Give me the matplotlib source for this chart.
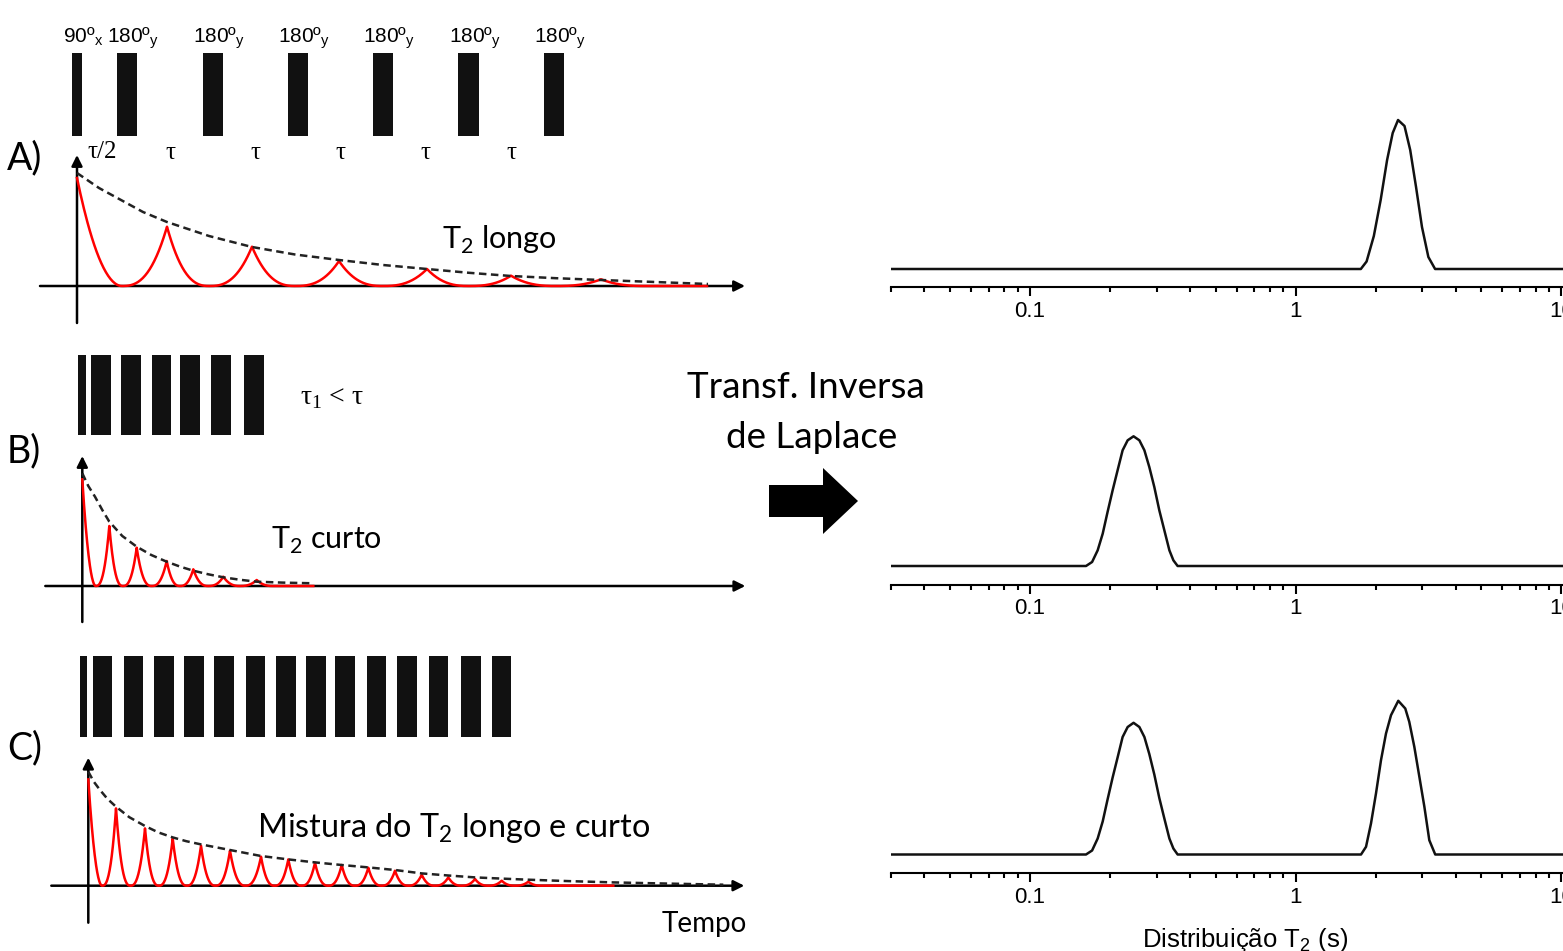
import numpy as np
import matplotlib
matplotlib.use('Agg')
import matplotlib.pyplot as plt
from matplotlib.patches import Polygon
from matplotlib.ticker import FixedLocator, LogLocator, FuncFormatter, NullFormatter

# ---- left side: CPMG sketches (times / amplitudes in a.u.) ----
# A) T2 longo
a_pulse_t = [0, 50.2, 135.9, 220.9, 306.2, 391.5, 477.2]
a_pulse_w = [10.7, 20.5, 20.5, 20.5, 20.5, 20.5, 20.5]
a_pulse_lbl = ['90º$_\\mathregular{x}$'] + ['180º$_\\mathregular{y}$'] * 6
a_h0 = 108
a_echo_t = [90, 175, 262, 350, 434, 524]
a_echo_h = [59.3, 39.3, 25, 17, 10.3, 6.7]
a_env_t = [0, 22, 44, 66, 90, 132, 175, 218, 262, 306, 350, 392, 434, 479, 524, 578, 631]
a_env_h = [113, 98, 86, 74, 64, 50, 39, 31.5, 26, 21, 17, 13.2, 10, 7.8, 6, 4, 2]
a_end = 630

# B) T2 curto
b_pulse_t = [-0.5, 18.5, 48.5, 79.2, 107.7, 138.7, 171.7]
b_pulse_w = [8.5, 19.5, 19.5, 19, 20, 20, 20]
b_h0 = 106.7
b_echo_t = [27, 54.4, 84.4, 111, 141, 174.4]
b_echo_h = [60, 38.3, 25, 16.7, 9.3, 6]
b_env_t = [0, 6, 12.7, 20, 27, 40, 54.4, 69, 84.4, 98, 111, 126, 141, 158, 174.4, 200, 231]
b_env_h = [112.7, 100, 89.3, 76, 64.3, 50, 39.3, 31, 24.3, 19.3, 15.3, 11.7, 8.7, 6.2, 4.3, 3.4, 2.7]
b_end = 231

# C) mistura
c_pulse_t = [-4.8, 14.2, 45.2, 75.7, 105.7, 135.7, 167.2, 197.7, 227.7, 256.7,
             288.2, 318.7, 350.2, 382.7, 413.2]
c_pulse_w = [7] + [19.5] * 14
c_h0 = 106.3
c_echo_t = [27.7, 56.7, 84.4, 112.7, 141.7, 172.7, 200, 226.7, 253.4, 280,
            306.7, 333.4, 360, 386.7, 413.4, 440]
c_echo_h = [77.3, 57.3, 47.3, 40, 35, 29, 26.3, 23, 20.7, 18, 15, 11, 8.3, 6.7, 5, 4]
c_env_t = [0, 5.5, 11.7, 19, 27.7, 41, 56.7, 70, 84.4, 98, 112.7, 141.7, 172.7, 200, 226.7,
           253.4, 280, 306.7, 333.4, 360, 386.7, 413.4, 440, 480, 525, 580, 635]
c_env_h = [114, 104, 95.7, 87, 79, 68.5, 59.7, 53.3, 48.3, 44.5, 41.3, 35.7, 29.7, 26.3, 23.3,
           20.7, 18.3, 15.7, 12.3, 10.2, 8.3, 7.1, 6, 4.6, 3.3, 2.1, 1]
c_end = 525

# ---- right side: T2 distributions ----
t2_min, t2_max = 0.03, 10.15
long_t2_A = [1.76, 1.85, 1.97, 2.09, 2.21, 2.32, 2.43, 2.57, 2.70, 2.84, 2.99, 3.16, 3.35]
long_amp_A = [0, 7.5, 33, 69, 109, 136, 149, 143, 119, 82, 42, 12, 0]
short_t2 = [0.1626, 0.1714, 0.1799, 0.1879, 0.1960, 0.2048, 0.2138, 0.2233, 0.2333, 0.2455,
            0.2582, 0.2697, 0.2814, 0.2939, 0.3069, 0.3206, 0.3349, 0.3467, 0.3597]
short_amp_B = [0, 4, 15.7, 32.3, 54, 75.7, 95.7, 115.7, 125.7, 129.7,
               125.7, 115.7, 99, 79, 55.7, 35.7, 15.7, 5.7, 0]
short_amp_C = [0, 4, 16, 33, 55, 77, 97, 117.5, 127.5, 131.7,
               127.5, 117.5, 100.5, 80, 56.5, 36, 16, 6, 0]
long_t2_C = [1.763, 1.841, 1.922, 2.007, 2.096, 2.189, 2.286, 2.435, 2.587, 2.678,
             2.798, 2.923, 3.053, 3.186, 3.354]
long_amp_C = [0, 7.7, 31, 61, 94.3, 121, 139.3, 153.7, 146, 132.7, 107.7, 77.7, 47.7, 14.3, 0]

W, H = 1563, 951
fig = plt.figure(figsize=(W / 100, H / 100), dpi=100)

calibri = ['Lato', 'DejaVu Sans']
arial = ['Liberation Sans', 'DejaVu Sans']
times = ['Liberation Serif', 'DejaVu Serif']
RED = '#ff0000'
LW = 1.8


def px_axes(x0, y0, x1, y1):
    return fig.add_axes([x0 / W, 1 - y1 / H, (x1 - x0) / W, (y1 - y0) / H])


def echo_train(h0, echo_t, echo_h, t_end, p=2.6, n=40):
    s = np.linspace(0, 1, n)
    m = echo_t[0] / 2
    ts = list(s * m)
    ys = list(h0 * (1 - s) ** 2.0)
    prev = m
    for i, (te, he) in enumerate(zip(echo_t, echo_h)):
        nxt = (te + echo_t[i + 1]) / 2 if i + 1 < len(echo_t) else te + (te - prev)
        ts += list(prev + s * (te - prev))
        ys += list(he * s ** p)
        ts += list(te + s * (nxt - te))
        ys += list(he * (1 - s) ** p)
        prev = nxt
    ts.append(t_end)
    ys.append(0)
    return ts, ys


def panel(box, origin, base, x_ax, y_ax, pulse_t, pulse_w, pulse_bot, pulse_h,
          h0, echo_t, echo_h, env_t, env_h, t_end):
    x0, y0, x1, y1 = box
    ax = px_axes(*box)
    ax.set_xlim(x0 - origin, x1 - origin)
    ax.set_ylim(base - y1, base - y0)
    ax.axis('off')
    ax.bar(pulse_t, pulse_h, width=pulse_w, bottom=pulse_bot, color='#111111', lw=0)
    arr = dict(arrowstyle='-|>', lw=LW, color='k', mutation_scale=16, shrinkA=0, shrinkB=0)
    ax.annotate('', xy=(x_ax[1], 0), xytext=(x_ax[0], 0), arrowprops=arr)
    ax.annotate('', xy=(0, y_ax[1]), xytext=(0, y_ax[0]), arrowprops=arr)
    ts, ys = echo_train(h0, echo_t, echo_h, t_end)
    ax.plot(ts, ys, color=RED, lw=LW, zorder=3)
    ax.plot(env_t, env_h, color='#222222', lw=LW, ls=(0, (3, 1.8)), zorder=4)
    return ax


# A
axA = panel((0, 0, 770, 340), 77, 286, (-37, 668), (-37, 131),
            a_pulse_t, a_pulse_w, 150, 82.7,
            a_h0, a_echo_t, a_echo_h, a_env_t, a_env_h, a_end)
for t, lbl in zip(a_pulse_t, a_pulse_lbl):
    axA.text(t + 6, 244, lbl, ha='center', va='baseline', fontsize=15, family=arial)
axA.text((a_pulse_t[0] + a_pulse_t[1]) / 2, 134, 'τ/2', ha='center', va='center',
         fontsize=18, family=times)
for t0, t1 in zip(a_pulse_t[1:-1], a_pulse_t[2:]):
    axA.text((t0 + t1) / 2, 133, 'τ', ha='center', va='center', fontsize=18, family=times)
axA.text(-70, 128, 'A)', ha='left', va='center', fontsize=27, family=calibri)
axA.text(422, 46, 'T$_\\mathregular{2}$ longo', ha='center', va='center', fontsize=22,
         family=calibri)

# B
axB = panel((0, 340, 770, 640), 82.3, 586, (-37, 663), (-36, 130),
            b_pulse_t, b_pulse_w, 151, 80,
            b_h0, b_echo_t, b_echo_h, b_env_t, b_env_h, b_end)
axB.text(-75.3, 135, 'B)', ha='left', va='center', fontsize=27, family=calibri)
axB.text(250, 188, 'τ$_\\mathregular{1}$ < τ', ha='center', va='center', fontsize=20,
         family=times)
axB.text(243.7, 46, 'T$_\\mathregular{2}$ curto', ha='center', va='center', fontsize=22,
         family=calibri)

# C
axC = panel((0, 640, 770, 951), 88.3, 885.7, (-37, 656), (-37, 128),
            c_pulse_t, c_pulse_w, 148.7, 81,
            c_h0, c_echo_t, c_echo_h, c_env_t, c_env_h, c_end)
axC.text(-81.3, 137.7, 'C)', ha='left', va='center', fontsize=27, family=calibri)
axC.text(365.7, 57.7, 'Mistura do T$_\\mathregular{2}$ longo e curto', ha='center',
         va='center', fontsize=23.3, family=calibri)
axC.text(615.7, -38.3, 'Tempo', ha='center', va='center', fontsize=20, family=calibri)

# middle: inverse Laplace arrow
fig.text(806 / W, 1 - 387 / H, 'Transf. Inversa', ha='center', va='center',
         fontsize=26.5, family=calibri)
fig.text(812 / W, 1 - 437 / H, 'de Laplace', ha='center', va='center',
         fontsize=26.5, family=calibri)
ov = fig.add_axes([0, 0, 1, 1], zorder=-1)
ov.set_xlim(0, W)
ov.set_ylim(H, 0)
ov.axis('off')
ov.add_patch(Polygon([(769, 485), (823, 485), (823, 468), (858, 501), (823, 534),
                      (823, 517), (769, 517)], closed=True, color='k', lw=0))


# right: T2 distributions
def dist_axes(spine_y, base_y, t2, amp):
    top = spine_y - 190
    ax = px_axes(891, top, 1563, spine_y)
    off = spine_y - base_y
    ax.set_xscale('log')
    ax.set_xlim(t2_min, t2_max)
    ax.set_ylim(-off, 190 - off)
    ax.patch.set_alpha(0)
    for s in ('left', 'right', 'top'):
        ax.spines[s].set_visible(False)
    ax.spines['bottom'].set_linewidth(1.5)
    ax.set_yticks([])
    ax.xaxis.set_major_locator(FixedLocator([0.1, 1, 10]))
    ax.xaxis.set_major_formatter(FuncFormatter(lambda v, _: f'{v:g}'))
    ax.xaxis.set_minor_locator(LogLocator(base=10, subs=np.arange(2, 10)))
    ax.xaxis.set_minor_formatter(NullFormatter())
    ax.tick_params(axis='x', which='major', direction='out', length=6.5, width=1.5,
                   pad=3.5, labelsize=16)
    ax.tick_params(axis='x', which='minor', direction='out', length=3.5, width=1.5)
    for lab in ax.get_xticklabels():
        lab.set_family(arial)
    ax.plot([t2_min] + list(t2) + [t2_max], [0] + list(amp) + [0], color='#111111', lw=1.8)
    return ax


dist_axes(287, 269, long_t2_A, long_amp_A)
dist_axes(584.5, 566, short_t2, short_amp_B)
dist_axes(873, 854.5, short_t2 + long_t2_C, short_amp_C + long_amp_C)
fig.text(1245 / W, 1 - 947 / H, 'Distribuição T$_\\mathregular{2}$ (s)', ha='center',
         va='baseline', fontsize=18.5, family=arial)

fig.savefig('out.png', dpi=100)
